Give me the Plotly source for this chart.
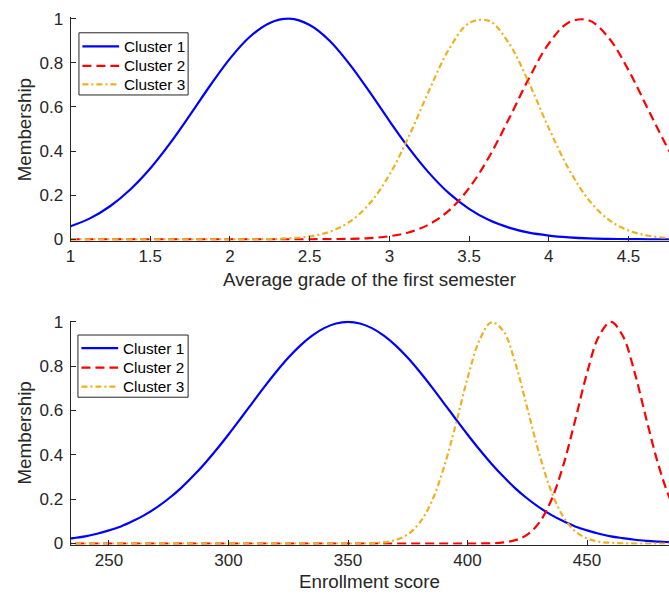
import plotly.graph_objects as go

# ---- Membership curves: average grade of the first semester ----
grade_x = [1.0, 1.125, 1.25, 1.375, 1.5, 1.625, 1.75, 1.875, 2.0, 2.125, 2.25, 2.375,
           2.5, 2.625, 2.75, 2.875, 3.0, 3.125, 3.25, 3.375, 3.5, 3.625, 3.75, 3.875,
           4.0, 4.125, 4.25, 4.375, 4.5, 4.625, 4.75, 4.875]
grade_c1 = [0.059, 0.096, 0.151, 0.226, 0.321, 0.436, 0.564, 0.696, 0.819, 0.918, 0.981, 1.000,
            0.971, 0.900, 0.794, 0.669, 0.537, 0.411, 0.300, 0.208, 0.138, 0.087, 0.053, 0.030,
            0.017, 0.009, 0.004, 0.002, 0.001, 0.000, 0.000, 0.000]
grade_c2 = [0.000, 0.000, 0.000, 0.000, 0.000, 0.000, 0.000, 0.000, 0.000, 0.000, 0.000, 0.000,
            0.000, 0.001, 0.002, 0.005, 0.014, 0.032, 0.068, 0.131, 0.232, 0.373, 0.546, 0.729,
            0.887, 0.983, 0.993, 0.914, 0.767, 0.586, 0.408, 0.259]
grade_c3 = [0.000, 0.000, 0.000, 0.000, 0.000, 0.000, 0.000, 0.000, 0.000, 0.000, 0.001, 0.005,
            0.013, 0.034, 0.079, 0.161, 0.292, 0.471, 0.676, 0.863, 0.980, 0.990, 0.889, 0.710,
            0.504, 0.319, 0.179, 0.089, 0.040, 0.016, 0.006, 0.002]

# ---- Membership curves: enrollment score ----
score_x = [230, 235, 240, 245, 250, 255, 260, 265, 270, 275, 280, 285, 290, 295, 300, 305,
           310, 315, 320, 325, 330, 335, 340, 345, 350, 355, 360, 365, 370, 375, 380, 385,
           390, 395, 400, 405, 410, 415, 420, 425, 430, 435, 440, 445, 450, 455, 460, 465,
           470, 475, 480, 485, 490]
score_c1 = [0.017, 0.024, 0.032, 0.044, 0.059, 0.077, 0.101, 0.129, 0.163, 0.203, 0.249, 0.302,
            0.360, 0.424, 0.492, 0.563, 0.635, 0.707, 0.775, 0.838, 0.893, 0.938, 0.972, 0.993,
            1.000, 0.993, 0.972, 0.938, 0.893, 0.838, 0.775, 0.707, 0.635, 0.563, 0.492, 0.424,
            0.360, 0.302, 0.249, 0.203, 0.163, 0.129, 0.101, 0.077, 0.059, 0.044, 0.032, 0.024,
            0.017, 0.012, 0.008, 0.006, 0.004]
score_c2 = [0.000, 0.000, 0.000, 0.000, 0.000, 0.000, 0.000, 0.000, 0.000, 0.000, 0.000, 0.000,
            0.000, 0.000, 0.000, 0.000, 0.000, 0.000, 0.000, 0.000, 0.000, 0.000, 0.000, 0.000,
            0.000, 0.000, 0.000, 0.000, 0.000, 0.000, 0.000, 0.000, 0.000, 0.000, 0.000, 0.000,
            0.001, 0.005, 0.015, 0.040, 0.094, 0.194, 0.350, 0.554, 0.769, 0.936, 1.000, 0.936,
            0.769, 0.554, 0.350, 0.194, 0.094]
score_c3 = [0.000, 0.000, 0.000, 0.000, 0.000, 0.000, 0.000, 0.000, 0.000, 0.000, 0.000, 0.000,
            0.000, 0.000, 0.000, 0.000, 0.000, 0.000, 0.000, 0.000, 0.000, 0.000, 0.000, 0.000,
            0.000, 0.000, 0.002, 0.005, 0.016, 0.041, 0.094, 0.189, 0.339, 0.534, 0.745, 0.917,
            0.998, 0.959, 0.814, 0.611, 0.405, 0.237, 0.122, 0.056, 0.023, 0.008, 0.003, 0.001,
            0.000, 0.000, 0.000, 0.000, 0.000]

series_names = ["Cluster 1", "Cluster 2", "Cluster 3"]
grade_ticks = [1, 1.5, 2, 2.5, 3, 3.5, 4, 4.5]
score_ticks = [250, 300, 350, 400, 450]
member_ticks = [0, 0.2, 0.4, 0.6, 0.8, 1]
member_labels = ["0", "0.2", "0.4", "0.6", "0.8", "1"]

W, H = 669, 604
FONT = "Liberation Sans, Arial, Helvetica, sans-serif"
AX = "#262626"
styles = [
    dict(color="#0000FF", width=2.2, dash="solid"),
    dict(color="#FF0000", width=2.2, dash="9px,5px"),
    dict(color="#EDB120", width=2.2, dash="6px,3px,2px,3px"),
]

fig = go.Figure()
for name, ys, st in zip(series_names, [grade_c1, grade_c2, grade_c3], styles):
    fig.add_trace(go.Scatter(x=grade_x, y=ys, mode="lines", name=name, showlegend=False,
                             line=dict(shape="spline", **st), xaxis="x", yaxis="y"))
for name, ys, st in zip(series_names, [score_c1, score_c2, score_c3], styles):
    fig.add_trace(go.Scatter(x=score_x, y=ys, mode="lines", name=name, showlegend=False,
                             line=dict(shape="spline", **st), xaxis="x2", yaxis="y2"))


def px_x(p):
    return p / W


def px_y(p):
    return 1 - p / H


pad = 0.006
left = 66 / W
common = dict(ticks="inside", ticklen=5, tickcolor=AX, showline=True, linecolor=AX, linewidth=1,
              showgrid=False, zeroline=False, tickfont=dict(family=FONT, size=17, color=AX))

fig.update_layout(
    width=W, height=H, margin=dict(l=0, r=0, t=0, b=0),
    paper_bgcolor="white", plot_bgcolor="white", showlegend=False,
    xaxis=dict(domain=[left, 1], range=[1, 4.754], tickvals=grade_ticks,
               ticktext=[f"{t:g}" for t in grade_ticks], anchor="y", **common),
    yaxis=dict(domain=[px_y(238 + 227 * pad), px_y(11 - 227 * pad)], range=[-pad, 1 + pad],
               tickvals=member_ticks, ticktext=member_labels, anchor="x",
               ticklabelstandoff=3, **common),
    xaxis2=dict(domain=[left, 1], range=[233.9, 484.3], tickvals=score_ticks,
                ticktext=[str(t) for t in score_ticks], anchor="y2", **common),
    yaxis2=dict(domain=[px_y(551 + 228 * pad), px_y(323 - 228 * pad)], range=[-pad, 1 + pad],
                tickvals=member_ticks, ticktext=member_labels, anchor="x2",
                ticklabelstandoff=3, **common),
)

# Legend boxes (one per panel): frame, line samples and labels
def add_legend(box, rows, line_x, text_x):
    x0, x1, y0, y1 = box
    fig.add_shape(type="rect", xref="paper", yref="paper", x0=px_x(x0), x1=px_x(x1),
                  y0=px_y(y0), y1=px_y(y1), line=dict(color=AX, width=1), fillcolor="white",
                  layer="above")
    for name, st, ry in zip(series_names, styles, rows):
        fig.add_shape(type="line", xref="paper", yref="paper", x0=px_x(line_x[0]), x1=px_x(line_x[1]),
                      y0=px_y(ry), y1=px_y(ry), line=st, layer="above")
        fig.add_annotation(text=name, x=px_x(text_x), y=px_y(ry), xref="paper", yref="paper",
                           showarrow=False, xanchor="left", yanchor="middle",
                           font=dict(family=FONT, size=15.3, color="black"))


add_legend((74.5, 184.5, 25.5, 89.5), (39.5, 59.5, 78.5), (78, 115), 117.5)
add_legend((73.5, 184.5, 336.5, 400.5), (350, 370, 389.5), (77, 114), 117)

title_font = dict(family=FONT, size=18.8, color=AX)
fig.add_annotation(text="Average grade of the first semester", x=(66 + W) / 2 / W, y=px_y(279),
                   xref="paper", yref="paper", showarrow=False, xanchor="center", yanchor="middle",
                   font=title_font)
fig.add_annotation(text="Enrollment score", x=(66 + W) / 2 / W, y=px_y(590),
                   xref="paper", yref="paper", showarrow=False, xanchor="center", yanchor="middle",
                   font=title_font)
for yc in (125, 437):
    fig.add_annotation(text="Membership", x=px_x(20), y=px_y(yc), xref="paper", yref="paper",
                       showarrow=False, xanchor="center", yanchor="middle", textangle=-90,
                       font=title_font)

fig.write_html("out.html")
